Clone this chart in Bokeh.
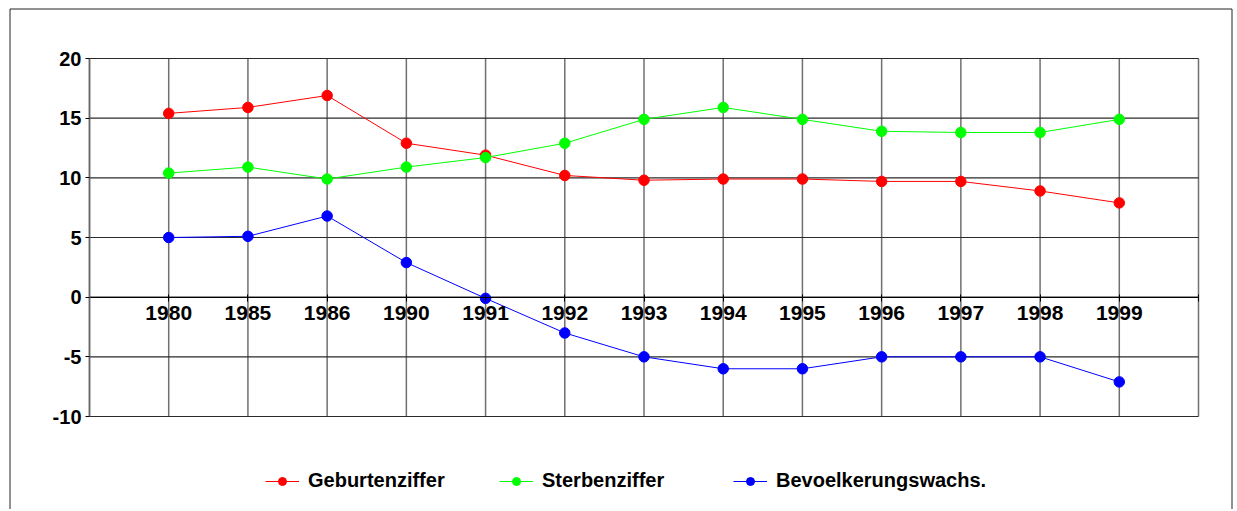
from bokeh.plotting import figure
from bokeh.models import (Range1d, FixedTicker, Legend, LegendItem, BoxAnnotation)
from bokeh.embed import file_html
from bokeh.resources import INLINE

# ---- data ----
years = ["1980", "1985", "1986", "1990", "1991", "1992", "1993",
         "1994", "1995", "1996", "1997", "1998", "1999"]
geburtenziffer = [15.4, 15.9, 16.9, 12.9, 11.9, 10.2, 9.8, 9.9, 9.9, 9.7, 9.7, 8.9, 7.9]
sterbenziffer = [10.4, 10.9, 9.9, 10.9, 11.7, 12.9, 14.9, 15.9, 14.9, 13.9, 13.8, 13.8, 14.9]
bevoelkerungswachs = [5.0, 5.1, 6.8, 2.9, -0.1, -3.0, -5.0, -6.0, -6.0, -5.0, -5.0, -5.0, -7.1]
y_ticks = [-10, -5, 0, 5, 10, 15, 20]
y_tick_labels = ["-10", "-5", "0", "5", "10", "15", "20"]

series = [
    ("Geburtenziffer", geburtenziffer, "#FF0000"),
    ("Sterbenziffer", sterbenziffer, "#00FF00"),
    ("Bevoelkerungswachs.", bevoelkerungswachs, "#0000FF"),
]

x = list(range(1, len(years) + 1))
x_ticks = list(range(0, len(years) + 2))
x_lo, x_hi = 0, len(years) + 1
y_lo, y_hi = y_ticks[0], y_ticks[-1]

# ---- layout (pixels) ----
W, H = 1237, 509
PL, PR, PT, PB = 89, 1198, 58, 416       # plot area edges on the canvas
sx = (PR - PL) / (x_hi - x_lo)
sy = (PB - PT) / (y_hi - y_lo)


def px2x(px):
    return x_lo + (px - PL) / sx


def px2y(py):
    return y_hi - (py - PT) / sy


p = figure(width=W, height=H, output_backend="svg", toolbar_location=None,
           x_range=Range1d(px2x(0), px2x(W)), y_range=Range1d(px2y(H), px2y(0)),
           min_border=0, min_border_left=0, min_border_right=0,
           min_border_top=0, min_border_bottom=0)
p.background_fill_color = "white"
p.border_fill_color = "white"
p.outline_line_color = None
p.xgrid.visible = False
p.ygrid.visible = False

FONT = "Liberation Sans"

# grid lines limited to the plot area
p.segment(x0=x_ticks, x1=x_ticks, y0=[y_lo] * len(x_ticks), y1=[y_hi] * len(x_ticks),
          line_color="#707070", line_width=1.5)
p.segment(x0=[x_lo] * len(y_ticks), x1=[x_hi] * len(y_ticks), y0=y_ticks, y1=y_ticks,
          line_color="#2a2a2a", line_width=1.2)

# y axis at x = 0
p.yaxis.fixed_location = x_lo
p.yaxis.bounds = (y_lo, y_hi)
p.yaxis.ticker = FixedTicker(ticks=y_ticks)
p.yaxis.major_label_overrides = dict(zip(y_ticks, y_tick_labels))
p.yaxis.axis_line_color = "#666666"
p.yaxis.axis_line_width = 1.5
p.yaxis.major_tick_line_color = "black"
p.yaxis.major_tick_in = 0
p.yaxis.major_tick_out = 4
p.yaxis.minor_tick_line_color = None
p.yaxis.major_label_standoff = 4
p.yaxis.major_label_text_font = FONT
p.yaxis.major_label_text_font_style = "bold"
p.yaxis.major_label_text_font_size = "20px"
p.yaxis.major_label_text_color = "black"

# x axis at y = 0
p.xaxis.fixed_location = 0
p.xaxis.bounds = (x_lo, x_hi)
p.xaxis.ticker = FixedTicker(ticks=x_ticks)
overrides = {t: "" for t in x_ticks}
for i, yr in zip(x, years):
    overrides[i] = yr
p.xaxis.major_label_overrides = overrides
p.xaxis.axis_line_color = "black"
p.xaxis.major_tick_line_color = "black"
p.xaxis.major_tick_in = 3
p.xaxis.major_tick_out = 4
p.xaxis.minor_tick_line_color = None
p.xaxis.major_label_standoff = 5
p.xaxis.major_label_text_font = FONT
p.xaxis.major_label_text_font_style = "bold"
p.xaxis.major_label_text_font_size = "21px"
p.xaxis.major_label_text_color = "black"

# outer chart border (bottom edge lies below the visible page)
border = BoxAnnotation(left=px2x(9.5), right=px2x(1231.5), top=px2y(8.5), bottom=px2y(H + 50),
                       fill_alpha=0, line_color="#222222", line_alpha=1.0, line_width=1)
p.add_layout(border)

# series + legends
legend_offsets = [265, 499, 733]
for (name, vals, col), xo in zip(series, legend_offsets):
    ln = p.line(x, vals, line_color=col, line_width=1)
    sc = p.scatter(x, vals, size=10.5, fill_color=col, line_color=col)
    lg = Legend(items=[LegendItem(label=name, renderers=[ln, sc])],
                location=(xo, 17), orientation="horizontal",
                padding=0, margin=0, spacing=0,
                glyph_width=34, glyph_height=20, label_height=20,
                label_standoff=9,
                label_text_font=FONT, label_text_font_style="bold",
                label_text_font_size="20px", label_text_color="black",
                border_line_color=None, background_fill_alpha=0)
    p.add_layout(lg, "center")

open("out.html", "w").write(file_html(p, INLINE))
